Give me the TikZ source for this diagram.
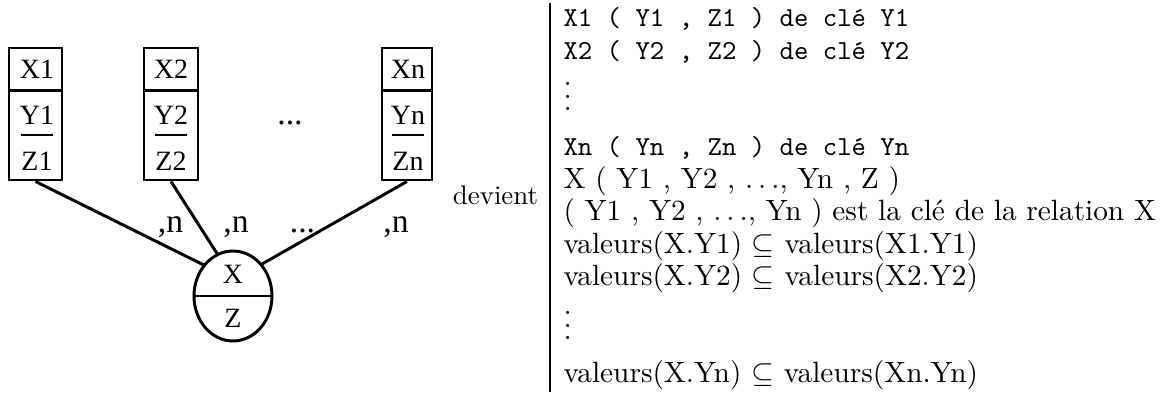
\documentclass[tikz,border=0pt]{standalone}
\usepackage{fontspec}
\newfontfamily\tms{Liberation Serif}
\usetikzlibrary{shapes.geometric,calc}
\newdimen\uu \uu=0.3717pt
\newcommand\myvd{\vbox{\baselineskip4.8pt\lineskiplimit0pt\hbox{.}\hbox{.}\hbox{.}}}
\begin{document}
\begin{tikzpicture}[x=0.3717pt,y=-0.3717pt,
  lw/.style={line width=1.1pt},
  ent/.style={draw,lw,rectangle,inner sep=0pt,minimum height=132*\uu},
  ttx/.style={inner sep=0pt,font=\tms\fontsize{10.4}{12}\selectfont,anchor=base},
  lab/.style={inner sep=0pt,font=\tms\fontsize{12.5}{14}\selectfont,anchor=base},
  rtx/.style={inner sep=0pt,font=\fontsize{10.9}{13}\selectfont,anchor=base west},
  rtt/.style={inner sep=0pt,font=\ttfamily\fontsize{10.2}{12}\selectfont,anchor=base west}]
\useasboundingbox (0,0) rectangle (1170,394);
% entity boxes
\node[ent,minimum width=53*\uu] (b1) at (35.5,114) {};
\node[ent,minimum width=54*\uu] (b2) at (171,114) {};
\node[ent,minimum width=50*\uu] (bn) at (407,114) {};
\foreach \b in {b1,b2,bn}{
  \draw[lw] ($(\b.north west)+(0,44)$) -- ($(\b.north east)+(0,44)$);
}
\node[ttx] (x1) at (37,79) {X1};
\node[ttx] (y1) at (37,125) {Y1};
\node[ttx] (z1) at (37,171) {Z1};
\node[ttx] (x2) at (171,79) {X2};
\node[ttx] (y2) at (171,125) {Y2};
\node[ttx] (z2) at (171,171) {Z2};
\node[ttx] (xn) at (408,79) {Xn};
\node[ttx] (yn) at (408,125) {Yn};
\node[ttx] (zn) at (408,171) {Zn};
\foreach \y in {y1,y2,yn}{
  \draw[lw] ($(\y.base)+(-16,10)$) -- ($(\y.base)+(16,10)$);
}
\node[lab] (dtop) at (290,125) {...};
% connectors
\coordinate (ec) at (234,280);
\draw[lw] (b1.south) -- (ec);
\draw[lw] (b2.south) -- (ec);
\draw[lw] (bn.south) -- (ec);
% association ellipse
\node[draw,lw,ellipse,fill=white,inner sep=0pt,minimum width=78*\uu,minimum height=90*\uu] (e) at (233,296) {};
\draw[lw] (e.west) -- (e.east);
\node[ttx] (ex) at (233,284) {X};
\node[ttx] (ez) at (233,328) {Z};
% cardinalities
\node[lab] (c1) at (170.5,233) {,n};
\node[lab] (c2) at (236,233) {,n};
\node[lab] (cd) at (302.5,233) {...};
\node[lab] (cn) at (396,233) {,n};
\node[inner sep=0pt,font=\fontsize{10}{12}\selectfont,anchor=base] (dev) at (495.5,205) {devient};
% separator
\coordinate (vt) at (550,3);
\coordinate (vb) at (550,392);
\draw[line width=0.8pt] (vt) -- (vb);
% right text
\node[rtt] (r1) at (563,27) {X1 ( Y1 , Z1 ) de clé Y1};
\node[rtt] (r2) at (563,59.3) {X2 ( Y2 , Z2 ) de clé Y2};
\node[rtx] (r3) at (563,111) {\myvd};
\node[rtt] (r4) at (563,156) {Xn ( Yn , Zn ) de clé Yn};
\node[rtx] (r5) at (563,188.5) {X ( Y1 , Y2 , $\ldots$, Yn , Z )};
\node[rtx] (r6) at (563,220.8) {( Y1 , Y2 , $\ldots$, Yn ) est la clé de la relation X};
\node[rtx] (r7) at (563,253.1) {valeurs(X.Y1) $\subseteq$ valeurs(X1.Y1)};
\node[rtx] (r8) at (563,285.4) {valeurs(X.Y2) $\subseteq$ valeurs(X2.Y2)};
\node[rtx] (r9) at (563,340) {\myvd};
\node[rtx] (r10) at (563,382.3) {valeurs(X.Yn) $\subseteq$ valeurs(Xn.Yn)};
\end{tikzpicture}
\end{document}
